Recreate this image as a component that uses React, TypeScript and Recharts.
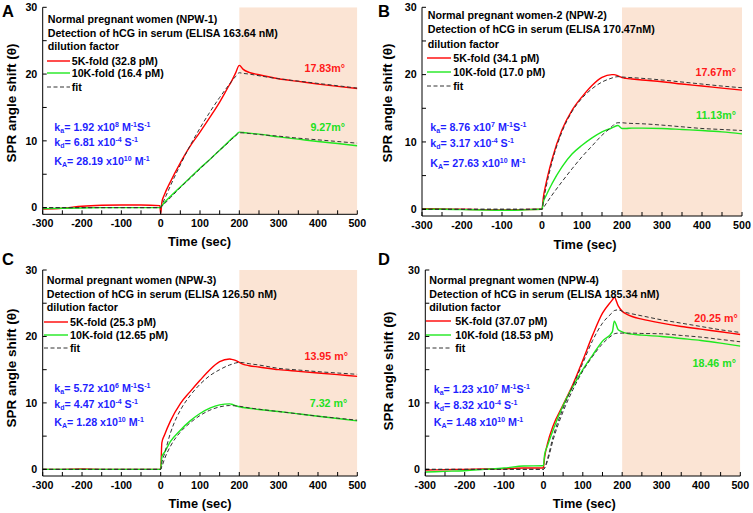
import React from "react";
import { LineChart, Line, XAxis, YAxis, ReferenceArea } from "recharts";

const FONT = '"Liberation Sans", Arial, Helvetica, sans-serif';

// time axis (sec), shared by every panel
const time = [-300, -250, -200, -150, -100, -50, -2, 0, 3, 10, 25, 50, 75, 100, 125, 150, 175, 180, 190, 200, 210, 225, 250, 300, 350, 400, 450, 500];

// panel A (NPW-1)
const redA = [-0.2, -0.1, 0.2, 0.35, 0.4, 0.4, 0.3, -0.9, 0.8, 2.0, 3.9, 6.7, 9.2, 11.3, 13.5, 15.8, 18.4, 18.9, 20.1, 21.3, 20.7, 20.25, 19.9, 19.3, 18.9, 18.5, 18.15, 17.85];
const greenA = [-0.15, -0.1, -0.05, 0, 0, 0, 0, 0.1, 0.3, 0.8, 1.7, 3.1, 4.5, 5.9, 7.2, 8.6, 10.0, 10.3, 10.8, 11.3, 11.25, 11.15, 11.0, 10.6, 10.25, 9.9, 9.6, 9.25];
const fitRedA = [0, 0, 0, 0, 0, 0, 0, 0, 0.4, 1.3, 3.3, 6.4, 9.3, 11.9, 14.3, 16.5, 18.5, 18.9, 19.6, 20.2, 20.1, 20.0, 19.75, 19.3, 18.95, 18.6, 18.25, 17.9];
const fitGreenA = [0, 0, 0, 0, 0, 0, 0, 0, 0.2, 0.6, 1.5, 3.0, 4.4, 5.8, 7.2, 8.6, 9.9, 10.2, 10.7, 11.2, 11.2, 11.1, 10.95, 10.7, 10.4, 10.15, 9.9, 9.65];

// panel B (NPW-2)
const redB = [0.1, 0.05, 0.0, -0.05, -0.1, -0.05, 0, 0, 1.6, 3.8, 7.4, 11.8, 14.7, 16.7, 18.4, 19.6, 20.0, 20.0, 19.8, 19.55, 19.45, 19.35, 19.2, 18.95, 18.6, 18.3, 18.0, 17.7];
const greenB = [0, 0, -0.05, -0.1, -0.15, -0.1, 0, 0, 1.0, 2.0, 3.8, 6.3, 8.2, 9.5, 10.6, 11.5, 12.1, 12.25, 12.45, 12.0, 12.0, 12.05, 12.05, 12.0, 11.85, 11.7, 11.5, 11.2];
const fitRedB = [0, 0, 0, 0, 0, 0, 0, 0, 1.0, 3.2, 7.0, 11.5, 14.5, 16.5, 17.9, 18.9, 19.5, 19.6, 19.7, 19.65, 19.6, 19.55, 19.45, 19.2, 18.9, 18.6, 18.3, 18.05];
const fitGreenB = [0, 0, 0, 0, 0, 0, 0, 0, 0.2, 0.8, 2.1, 4.1, 6.0, 7.8, 9.4, 11.0, 12.3, 12.6, 12.85, 12.85, 12.8, 12.75, 12.7, 12.5, 12.25, 12.0, 11.85, 11.7];

// panel C (NPW-3)
const redC = [0, 0, 0.05, 0, 0, 0, 0, 0, 4.0, 5.2, 7.3, 9.9, 11.7, 13.4, 15.0, 16.2, 16.6, 16.55, 16.4, 16.1, 15.8, 15.6, 15.4, 15.0, 14.75, 14.5, 14.25, 14.0];
const greenC = [0, 0, 0, 0, 0, 0, 0, 0, 1.9, 2.6, 4.2, 5.9, 7.3, 8.4, 9.2, 9.7, 9.85, 9.8, 9.6, 9.4, 9.3, 9.2, 9.0, 8.7, 8.35, 8.0, 7.65, 7.3];
const fitRedC = [0, 0, 0, 0, 0, 0, 0, 0, 1.0, 2.4, 5.5, 8.9, 11.1, 12.8, 14.1, 15.0, 15.7, 15.8, 16.0, 16.1, 16.05, 15.9, 15.7, 15.2, 14.95, 14.7, 14.5, 14.3];
const fitGreenC = [0, 0, 0, 0, 0, 0, 0, 0, 0.4, 1.6, 3.5, 5.6, 7.0, 8.1, 8.9, 9.4, 9.6, 9.6, 9.55, 9.5, 9.4, 9.25, 9.05, 8.7, 8.35, 8.0, 7.7, 7.4];

// panel D (NPW-4)
const redD = [-0.1, -0.05, 0.0, 0.05, 0.1, 0.2, 0.2, 0.3, 1.8, 3.8, 6.6, 9.7, 12.8, 16.4, 20.2, 23.5, 25.5, 25.9, 24.6, 23.8, 23.4, 23.0, 22.6, 22.0, 21.5, 21.1, 20.7, 20.3];
const greenD = [-0.4, -0.3, -0.2, 0.0, 0.2, 0.5, 0.55, 0.6, 2.2, 3.5, 6.0, 9.6, 12.5, 15.0, 17.2, 19.3, 20.7, 22.3, 21.0, 20.7, 20.5, 20.35, 20.2, 20.0, 19.7, 19.4, 19.0, 18.55];
const fitRedD = [0, 0, 0, 0, 0, 0, 0, 0, 0.2, 1.5, 5.0, 9.2, 12.6, 16.0, 19.4, 22.0, 23.6, 23.9, 24.0, 23.8, 23.6, 23.4, 23.1, 22.5, 22.0, 21.5, 21.0, 20.6];
const fitGreenD = [0, 0, 0, 0, 0, 0, 0, 0, 0.2, 1.2, 4.5, 8.7, 12.0, 14.8, 17.0, 18.9, 20.2, 20.4, 20.5, 20.5, 20.5, 20.5, 20.45, 20.4, 20.15, 19.9, 19.55, 19.2];

// axis ticks
const xTicks = [-300, -250, -200, -150, -100, -50, 0, 50, 100, 150, 200, 250, 300, 350, 400, 450, 500];
const yTicks = [0, 5, 10, 15, 20, 25, 30];

// texts
const titlesA = ["Normal pregnant women (NPW-1)", "Detection of hCG in serum (ELISA 163.64 nM)", "dilution factor"];
const titlesB = ["Normal pregnant women-2 (NPW-2)", "Detection of hCG in serum (ELISA 170.47nM)", "dilution factor"];
const titlesC = ["Normal pregnant women (NPW-3)", "Detection of hCG in serum (ELISA 126.50 nM)", "dilution factor"];
const titlesD = ["Normal pregnant women (NPW-4)", "Detection of hCG in serum (ELISA 185.34 nM)", "dilution factor"];
const legendA = ["5K-fold (32.8 pM)", "10K-fold (16.4 pM)", "fit"];
const legendB = ["5K-fold (34.1 pM)", "10K-fold (17.0 pM)", "fit"];
const legendC = ["5K-fold (25.3 pM)", "10K-fold (12.65 pM)", "fit"];
const legendD = ["5K-fold (37.07 pM)", "10K-fold (18.53 pM)", "fit"];
// [mantissa, exponent] for ka, kd, KA
const kinA = [["1.92", "8"], ["6.81", "-4"], ["28.19", "10"]];
const kinB = [["8.76", "7"], ["3.17", "-4"], ["27.63", "10"]];
const kinC = [["5.72", "6"], ["4.47", "-4"], ["1.28", "10"]];
const kinD = [["1.23", "7"], ["8.32", "-4"], ["1.48", "10"]];
const peaksA = ["17.83m°", "9.27m°"];
const peaksB = ["17.67m°", "11.13m°"];
const peaksC = ["13.95 m°", "7.32 m°"];
const peaksD = ["20.25 m°", "18.46 m°"];

const RED = "#ff1a1a";
const GREEN = "#22e022";
const BLUE = "#1f1fff";

const rows = (r: number[], g: number[], fr: number[], fg: number[]) =>
  time.map((t, i) => ({ t, red: r[i], green: g[i], fitRed: fr[i], fitGreen: fg[i] }));

const fmtX = (v: number) => (v % 100 === 0 ? String(v) : "");
const fmtY = (v: number) => (v % 10 === 0 ? String(v) : "");
const tickStyle = { fill: "#000", fontSize: 10.7, fontWeight: "bold", fontFamily: FONT };

function Chart({ box, margin, data }: any) {
  return (
    <div style={{ position: "absolute", left: box.x, top: box.y }}>
      <LineChart width={box.w} height={box.h} data={data} margin={margin}>
        <ReferenceArea x1={200} x2={500} fill="#fbe4d4" fillOpacity={1} stroke="none" ifOverflow="hidden" />
        <XAxis dataKey="t" type="number" domain={[-300, 500]} ticks={xTicks} interval={0} tickFormatter={fmtX}
          height={20} tickSize={-4} tickMargin={9} stroke="#000" tick={tickStyle} allowDataOverflow />
        <XAxis xAxisId="top" orientation="top" dataKey="t" type="number" domain={[-300, 500]} ticks={xTicks}
          interval={0} height={0} tickSize={-4} tick={false} stroke="#000" allowDataOverflow />
        <YAxis type="number" domain={[-1, 30]} ticks={yTicks} interval={0} tickFormatter={fmtY} width={40}
          tickSize={-4} tickMargin={9.4} stroke="#000" tick={tickStyle} allowDataOverflow />
        <YAxis yAxisId="right" orientation="right" type="number" domain={[-1, 30]} ticks={yTicks} interval={0}
          width={0} tickSize={-4} tick={false} stroke="#000" allowDataOverflow />
        <Line type="monotone" dataKey="red" stroke="#ff0000" strokeWidth={1.4} dot={false} isAnimationActive={false} />
        <Line type="monotone" dataKey="green" stroke="#1fe81f" strokeWidth={1.4} dot={false} isAnimationActive={false} />
        <Line type="monotone" dataKey="fitRed" stroke="#333" strokeWidth={1} strokeDasharray="4 2.5" dot={false} isAnimationActive={false} />
        <Line type="monotone" dataKey="fitGreen" stroke="#333" strokeWidth={1} strokeDasharray="4 2.5" dot={false} isAnimationActive={false} />
      </LineChart>
    </div>
  );
}

function Txt({ x, y, children, color = "#000", size = 10.7, align = "left", rotate = false }: any) {
  const tr = rotate
    ? "translate(-50%,-50%) rotate(-90deg)"
    : align === "right" ? "translate(-100%,-50%)" : align === "center" ? "translate(-50%,-50%)" : "translateY(-50%)";
  return (
    <div style={{ position: "absolute", left: x, top: y, transform: tr, fontFamily: FONT, fontWeight: "bold",
      fontSize: size, lineHeight: 1, color, whiteSpace: "nowrap" }}>
      {children}
    </div>
  );
}

const supS = { fontSize: 7, verticalAlign: "0.5em", lineHeight: 0 } as const;
const subS = { fontSize: 7, verticalAlign: "-0.3em", lineHeight: 0 } as const;

function Sample({ x1, x2, y, color, dashed }: any) {
  return (
    <svg style={{ position: "absolute", left: x1, top: y - 2 }} width={x2 - x1} height={4}>
      <line x1={0} x2={x2 - x1} y1={2} y2={2} stroke={color} strokeWidth={dashed ? 1 : 1.4}
        strokeDasharray={dashed ? "4 2.5" : undefined} />
    </svg>
  );
}

function Notes({ L, titles, legend, kin, peaks }: any) {
  return (
    <>
      <Txt x={L.letter[0]} y={L.letter[1]} size={16.5}>{L.name}</Txt>
      {titles.map((s: string, i: number) => (
        <Txt key={s} x={L.titleX} y={L.titleY[i]}>{s}</Txt>
      ))}
      {legend.map((s: string, i: number) => (
        <React.Fragment key={s}>
          <Sample x1={L.lineX[0]} x2={L.lineX[1]} y={L.legY[i]} color={i === 0 ? "#ff0000" : i === 1 ? "#1fe81f" : "#333"} dashed={i === 2} />
          <Txt x={L.legX} y={L.legY[i]}>{s}</Txt>
        </React.Fragment>
      ))}
      <Txt x={L.kinX} y={L.kinY[0]} color={BLUE}>
        k<sub style={subS}>a</sub>= {kin[0][0]} x10<sup style={supS}>{kin[0][1]}</sup> M<sup style={supS}>-1</sup>S<sup style={supS}>-1</sup>
      </Txt>
      <Txt x={L.kinX} y={L.kinY[1]} color={BLUE}>
        k<sub style={subS}>d</sub>= {kin[1][0]} x10<sup style={supS}>{kin[1][1]}</sup> S<sup style={supS}>-1</sup>
      </Txt>
      <Txt x={L.kinX} y={L.kinY[2]} color={BLUE}>
        K<sub style={subS}>A</sub>= {kin[2][0]} x10<sup style={supS}>{kin[2][1]}</sup> M<sup style={supS}>-1</sup>
      </Txt>
      <Txt x={L.peakX[0]} y={L.peakY[0]} color={RED} align="right">{peaks[0]}</Txt>
      <Txt x={L.peakX[1]} y={L.peakY[1]} color={GREEN} align="right">{peaks[1]}</Txt>
      <Txt x={L.yLab[0]} y={L.yLab[1]} size={13.5} rotate>SPR angle shift (θ)</Txt>
      <Txt x={L.xLab[0]} y={L.xLab[1]} size={12.8} align="center">Time (sec)</Txt>
    </>
  );
}

const layoutA = { name: "A", letter: [2, 11], titleX: 47.7, titleY: [19.3, 33.3, 46], lineX: [46.7, 70], legX: 71.7,
  legY: [61, 73.3, 87], kinX: 54.3, kinY: [126.7, 141.7, 161], peakX: [345, 345], peakY: [68, 126.7], yLab: [12, 103], xLab: [199.5, 242] };
const layoutB = { name: "B", letter: [378, 11], titleX: 427.7, titleY: [15, 29.3, 44], lineX: [426.7, 451], legX: 453.3,
  legY: [58.3, 71.7, 86], kinX: 430.3, kinY: [126.7, 142.7, 162.7], peakX: [736, 736], peakY: [71.7, 115], yLab: [388, 103], xLab: [585, 245] };
const layoutC = { name: "C", letter: [2, 259], titleX: 46.7, titleY: [280, 293.7, 307], lineX: [44.3, 68.3], legX: 70,
  legY: [321.7, 335, 347.7], kinX: 54.3, kinY: [387.7, 404.3, 421.7], peakX: [348, 347.3], peakY: [356, 402.7], yLab: [12, 368], xLab: [200, 504] };
const layoutD = { name: "D", letter: [378, 259], titleX: 429.3, titleY: [280, 293.7, 307], lineX: [426, 451], legX: 455.3,
  legY: [321, 335, 347.7], kinX: 433.7, kinY: [389.3, 405, 421.7], peakX: [737.7, 736], peakY: [317.7, 362.7], yLab: [388.7, 371], xLab: [584.3, 504] };

export default function App() {
  return (
    <div style={{ position: "absolute", left: 0, top: 0, width: 753, height: 513, background: "#fff", overflow: "hidden" }}>
      <Chart box={{ x: 0, y: 0, w: 376, h: 256 }} margin={{ left: 2.7, right: 18.7, top: 7.3, bottom: 21.7 }}
        data={rows(redA, greenA, fitRedA, fitGreenA)} />
      <Chart box={{ x: 376, y: 0, w: 377, h: 256 }} margin={{ left: 6, right: 11, top: 7.3, bottom: 20 }}
        data={rows(redB, greenB, fitRedB, fitGreenB)} />
      <Chart box={{ x: 0, y: 256, w: 376, h: 257 }} margin={{ left: 2.7, right: 18.7, top: 14, bottom: 17 }}
        data={rows(redC, greenC, fitRedC, fitGreenC)} />
      <Chart box={{ x: 376, y: 256, w: 377, h: 257 }} margin={{ left: 9.3, right: 12.7, top: 14, bottom: 17 }}
        data={rows(redD, greenD, fitRedD, fitGreenD)} />
      <Notes L={layoutA} titles={titlesA} legend={legendA} kin={kinA} peaks={peaksA} />
      <Notes L={layoutB} titles={titlesB} legend={legendB} kin={kinB} peaks={peaksB} />
      <Notes L={layoutC} titles={titlesC} legend={legendC} kin={kinC} peaks={peaksC} />
      <Notes L={layoutD} titles={titlesD} legend={legendD} kin={kinD} peaks={peaksD} />
    </div>
  );
}
